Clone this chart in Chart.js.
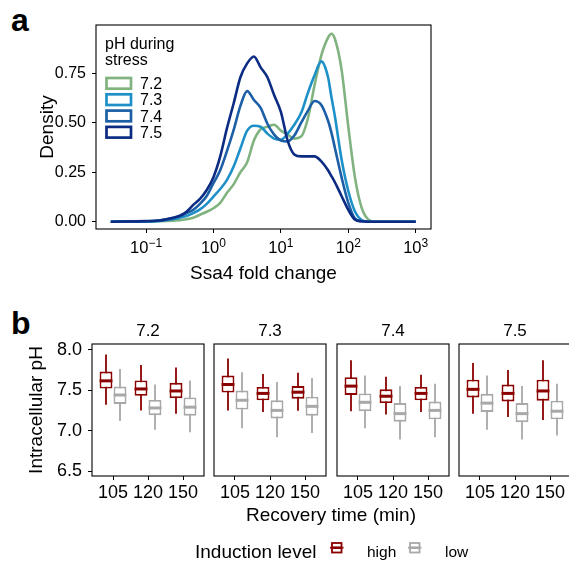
<!DOCTYPE html>
<html>
<head>
<meta charset="utf-8">
<script src="https://cdn.jsdelivr.net/npm/chart.js@4.4.1/dist/chart.umd.min.js"></script>
<style>
  html, body { margin: 0; padding: 0; background: #fff; overflow: hidden; }
  body { width: 569px; height: 562px; position: relative; font-family: "Liberation Sans", Arial, sans-serif; color: #000; }
  canvas, .txt { position: absolute; }
  .txt { white-space: nowrap; }
  .tag { font-weight: bold; font-size: 32px; line-height: 32px; left: 11px; }
</style>
</head>
<body>
<div class="txt tag" style="top:4px">a</div>
<div class="txt tag" style="top:307px">b</div>
<canvas id="panelA" width="450" height="300" style="left:0;top:0"></canvas>
<canvas id="facet0" width="208" height="210" style="left:0;top:300px"></canvas>
<canvas id="facet1" width="120" height="210" style="left:210px;top:300px"></canvas>
<canvas id="facet2" width="120" height="210" style="left:333px;top:300px"></canvas>
<canvas id="facet3" width="120" height="210" style="left:455px;top:300px"></canvas>
<div class="txt" style="left:231px;width:200px;text-align:center;top:505px;font-size:19px;line-height:19px">Recovery time (min)</div>
<div class="txt" style="left:195px;top:542px;font-size:19px;line-height:19px">Induction level</div>
<canvas id="legendB" width="100" height="20" style="left:326px;top:538px"></canvas>
<div class="txt" style="left:367px;top:544px;font-size:15.5px;line-height:15.5px">high</div>
<div class="txt" style="left:445px;top:544px;font-size:15.5px;line-height:15.5px">low</div>

<script>
// ---- a：Ssa4 倍数变化的密度曲线 ----
const phLevels = ['7.2', '7.3', '7.4', '7.5'];
const foldChange = [0.03, 0.1, 0.158, 0.251, 0.316, 0.398, 0.501, 0.631, 0.794, 1,
  1.26, 1.58, 2.0, 2.51, 3.16, 3.98, 5.01, 6.31, 7.94, 10,
  12.6, 15.8, 20.0, 25.1, 31.6, 39.8, 50.1, 56.2, 63.1, 79.4,
  100, 126, 158, 200, 251, 398, 1000];
const density72 = [0, 0.001, 0.002, 0.005, 0.008, 0.012, 0.02, 0.035, 0.05, 0.068,
  0.095, 0.145, 0.19, 0.25, 0.30, 0.41, 0.467, 0.48, 0.49, 0.46,
  0.44, 0.42, 0.43, 0.52, 0.69, 0.84, 0.93, 0.95, 0.925, 0.77,
  0.48, 0.22, 0.07, 0.01, 0, 0, 0];
const density73 = [0, 0.001, 0.004, 0.013, 0.02, 0.028, 0.043, 0.062, 0.09, 0.127,
  0.165, 0.21, 0.28, 0.37, 0.46, 0.485, 0.48, 0.445, 0.42, 0.414,
  0.445, 0.49, 0.55, 0.65, 0.74, 0.81, 0.73, 0.63, 0.535, 0.315,
  0.155, 0.05, 0.008, 0, 0, 0, 0];
const density74 = [0, 0.002, 0.006, 0.018, 0.028, 0.043, 0.06, 0.09, 0.13, 0.195,
  0.26, 0.355, 0.465, 0.585, 0.66, 0.615, 0.575, 0.495, 0.44, 0.41,
  0.405, 0.435, 0.50, 0.56, 0.61, 0.59, 0.51, 0.45, 0.375, 0.225,
  0.095, 0.015, 0.002, 0, 0, 0, 0];
const density75 = [0, 0.003, 0.006, 0.02, 0.03, 0.05, 0.085, 0.115, 0.16, 0.225,
  0.33, 0.47, 0.60, 0.73, 0.80, 0.835, 0.78, 0.73, 0.64, 0.555,
  0.41, 0.34, 0.33, 0.33, 0.33, 0.305, 0.26, 0.23, 0.20, 0.13,
  0.06, 0.01, 0.002, 0, 0, 0, 0];
const foldTicks = [0.1, 1, 10, 100, 1000];
const foldTickExp = ['\u22121', '0', '1', '2', '3'];
const densityTicks = [0, 0.25, 0.5, 0.75];

// ---- b：细胞内 pH 箱线图 [最小, Q1, 中位数, Q3, 最大] ----
const recoveryTimes = ['105', '120', '150'];
const inductionLevels = ['high', 'low'];
const highStats = [
  [[7.32, 7.52, 7.615, 7.73, 7.94], [7.25, 7.43, 7.515, 7.62, 7.81], [7.21, 7.40, 7.49, 7.59, 7.78]],
  [[7.25, 7.47, 7.57, 7.68, 7.89], [7.23, 7.375, 7.46, 7.54, 7.70], [7.245, 7.395, 7.475, 7.55, 7.715]],
  [[7.24, 7.44, 7.55, 7.66, 7.87], [7.20, 7.34, 7.425, 7.51, 7.665], [7.23, 7.375, 7.46, 7.54, 7.69]],
  [[7.21, 7.41, 7.51, 7.63, 7.835], [7.17, 7.36, 7.46, 7.57, 7.75], [7.13, 7.37, 7.49, 7.63, 7.87]]
];
const lowStats = [
  [[7.12, 7.33, 7.44, 7.545, 7.76], [7.01, 7.19, 7.28, 7.38, 7.57], [6.98, 7.185, 7.29, 7.41, 7.62]],
  [[7.03, 7.26, 7.375, 7.495, 7.72], [6.92, 7.15, 7.25, 7.375, 7.60], [6.97, 7.185, 7.30, 7.42, 7.65]],
  [[7.03, 7.24, 7.35, 7.46, 7.68], [6.89, 7.11, 7.21, 7.34, 7.55], [6.92, 7.14, 7.25, 7.36, 7.58]],
  [[7.01, 7.23, 7.34, 7.455, 7.68], [6.89, 7.105, 7.21, 7.34, 7.55], [6.94, 7.14, 7.24, 7.37, 7.58]]
];
const phTicks = [6.5, 7.0, 7.5, 8.0];

// 颜色
const densityColors = ['#80B380', '#1E90C8', '#1D5FA6', '#0C2C84'];
const levelColors = ['#8B0000', '#A8A8A8'];
const FONT = '"Liberation Sans", Arial, sans-serif';

Chart.defaults.font.family = FONT;
Chart.defaults.color = '#000';

// 面板外框
const panelBorder = {
  id: 'panelBorder',
  afterDraw(chart) {
    const { ctx, chartArea: a } = chart;
    ctx.save();
    ctx.strokeStyle = '#000';
    ctx.lineWidth = 1.1;
    ctx.strokeRect(a.left, a.top, a.right - a.left, a.bottom - a.top);
    ctx.restore();
  }
};

// x 轴 10 的幂次标签
const powerTicks = {
  id: 'powerTicks',
  afterDraw(chart) {
    const { ctx, scales: { x } } = chart;
    ctx.save();
    ctx.fillStyle = '#000';
    ctx.textBaseline = 'alphabetic';
    ctx.textAlign = 'left';
    foldTicks.forEach((v, i) => {
      const px = x.getPixelForValue(v);
      ctx.font = '16.5px ' + FONT;
      const wBase = ctx.measureText('10').width;
      ctx.font = '12px ' + FONT;
      const wExp = ctx.measureText(foldTickExp[i]).width;
      const left = px - (wBase + wExp) / 2;
      ctx.font = '16.5px ' + FONT;
      ctx.fillText('10', left, 253);
      ctx.font = '12px ' + FONT;
      ctx.fillText(foldTickExp[i], left + wBase, 246.5);
    });
    ctx.restore();
  }
};

// a 图内部图例
const densityLegend = {
  id: 'densityLegend',
  afterDraw(chart) {
    const { ctx } = chart;
    ctx.save();
    ctx.fillStyle = '#000';
    ctx.font = '16px ' + FONT;
    ctx.textBaseline = 'alphabetic';
    ctx.fillText('pH during', 105, 48.5);
    ctx.fillText('stress', 105, 65);
    phLevels.forEach((ph, i) => {
      const y = 78 + i * 16.3;
      ctx.fillStyle = '#fff';
      ctx.fillRect(106.5, y, 24.5, 10.7);
      ctx.strokeStyle = densityColors[i];
      ctx.lineWidth = 2.7;
      ctx.strokeRect(106.5, y, 24.5, 10.7);
      ctx.fillStyle = '#000';
      ctx.fillText(ph, 140, y + 11);
    });
    ctx.restore();
  }
};

new Chart(document.getElementById('panelA'), {
  type: 'line',
  data: {
    datasets: phLevels.map((ph, i) => ({
      label: ph,
      data: foldChange.map((fc, j) => ({ x: fc, y: [density72, density73, density74, density75][i][j] })),
      borderColor: densityColors[i],
      borderWidth: 2.6,
      pointRadius: 0,
      fill: false,
      cubicInterpolationMode: 'monotone',
      order: phLevels.length - i
    }))
  },
  options: {
    responsive: false,
    animation: false,
    layout: { padding: { top: 25, right: 19, left: 0, bottom: 0 } },
    plugins: { legend: { display: false }, tooltip: { enabled: false } },
    scales: {
      x: {
        type: 'logarithmic',
        min: 0.0181,
        max: 1686,
        afterBuildTicks: s => { s.ticks = foldTicks.map(v => ({ value: v })); },
        ticks: { display: false },
        grid: { drawOnChartArea: false, tickLength: 4, color: '#000' },
        border: { display: false },
        title: { display: true, text: 'Ssa4 fold change', font: { size: 19 }, padding: { top: 0, bottom: 15 } },
        afterFit: s => { s.height = 71; }
      },
      y: {
        type: 'linear',
        min: -0.037,
        max: 0.994,
        afterBuildTicks: s => { s.ticks = densityTicks.map(v => ({ value: v })); },
        ticks: { callback: v => v.toFixed(2), font: { size: 16 }, padding: 6 },
        grid: { drawOnChartArea: false, tickLength: 4, color: '#000' },
        border: { display: false },
        title: { display: true, text: 'Density', font: { size: 19 }, padding: { top: 36, bottom: 0 } },
        afterFit: s => { s.width = 96; }
      }
    }
  },
  plugins: [panelBorder, powerTicks, densityLegend]
});

// 箱线图：须线在箱体之下，中位数线在上
const boxParts = {
  id: 'boxParts',
  beforeDatasetsDraw(chart) {
    const { ctx, scales: { y } } = chart;
    chart.data.datasets.forEach((ds, di) => {
      chart.getDatasetMeta(di).data.forEach((bar, i) => {
        const s = ds.data[i].stats;
        ctx.save();
        ctx.strokeStyle = ds.borderColor;
        ctx.lineWidth = 1.8;
        ctx.beginPath();
        ctx.moveTo(bar.x, y.getPixelForValue(s[4]));
        ctx.lineTo(bar.x, y.getPixelForValue(s[0]));
        ctx.stroke();
        ctx.restore();
      });
    });
  },
  afterDatasetsDraw(chart) {
    const { ctx, scales: { y } } = chart;
    chart.data.datasets.forEach((ds, di) => {
      chart.getDatasetMeta(di).data.forEach((bar, i) => {
        const s = ds.data[i].stats;
        const py = y.getPixelForValue(s[2]);
        ctx.save();
        ctx.strokeStyle = ds.borderColor;
        ctx.lineWidth = 3;
        ctx.beginPath();
        ctx.moveTo(bar.x - bar.width / 2, py);
        ctx.lineTo(bar.x + bar.width / 2, py);
        ctx.stroke();
        ctx.restore();
      });
    });
  }
};

// 分面标题
const stripLabel = {
  id: 'stripLabel',
  afterDraw(chart, args, opts) {
    const { ctx, chartArea: a } = chart;
    ctx.save();
    ctx.fillStyle = '#000';
    ctx.font = '17px ' + FONT;
    ctx.textAlign = 'center';
    ctx.textBaseline = 'alphabetic';
    ctx.fillText(opts.text, (a.left + a.right) / 2, 36);
    ctx.restore();
  }
};

function makeFacet(idx) {
  const first = idx === 0;
  new Chart(document.getElementById('facet' + idx), {
    type: 'bar',
    data: {
      datasets: [highStats, lowStats].map((stats, li) => ({
        label: inductionLevels[li],
        data: stats[idx].map((s, i) => ({ x: i + 1, y: [s[1], s[3]], stats: s })),
        backgroundColor: '#fff',
        borderColor: levelColors[li],
        borderWidth: 1.9,
        borderSkipped: false,
        categoryPercentage: 0.8,
        barPercentage: 0.92
      }))
    },
    options: {
      responsive: false,
      animation: false,
      layout: { padding: { top: 44, right: 4, left: first ? 0 : 4, bottom: 0 } },
      plugins: {
        legend: { display: false },
        tooltip: { enabled: false },
        stripLabel: { text: phLevels[idx] }
      },
      scales: {
        x: {
          type: 'linear',
          min: 0.4,
          max: 3.6,
          offset: false,
          afterBuildTicks: s => { s.ticks = recoveryTimes.map((t, i) => ({ value: i + 1 })); },
          ticks: { callback: (v, i) => recoveryTimes[i], font: { size: 18 }, padding: 2, autoSkip: false, maxRotation: 0 },
          grid: { offset: false, drawOnChartArea: false, tickLength: 4, color: '#000' },
          border: { display: false },
          afterFit: s => { s.height = 34; }
        },
        y: {
          display: first,
          min: 6.44,
          max: 8.07,
          afterBuildTicks: s => { s.ticks = phTicks.map(v => ({ value: v })); },
          ticks: { callback: v => v.toFixed(1), font: { size: 18 }, padding: 6 },
          grid: { drawOnChartArea: false, tickLength: 4, color: '#000' },
          border: { display: false },
          title: { display: true, text: 'Intracellular pH', font: { size: 19 }, padding: { top: 25, bottom: 0 } },
          afterFit: s => { s.width = first ? 92 : 0; }
        }
      }
    },
    plugins: [boxParts, panelBorder, stripLabel]
  });
}
phLevels.forEach((ph, i) => makeFacet(i));

// 底部图例色块
(function drawInductionKeys() {
  const ctx = document.getElementById('legendB').getContext('2d');
  const keyLeft = [4, 82];
  inductionLevels.forEach((lvl, i) => {
    const x0 = keyLeft[i];
    ctx.strokeStyle = levelColors[i];
    ctx.lineWidth = 1.8;
    ctx.beginPath();
    ctx.moveTo(x0, 9.7);
    ctx.lineTo(x0 + 13.5, 9.7);
    ctx.stroke();
    ctx.fillStyle = '#fff';
    ctx.fillRect(x0 + 2, 5, 9.5, 9.5);
    ctx.strokeRect(x0 + 2, 5, 9.5, 9.5);
    ctx.lineWidth = 2.6;
    ctx.beginPath();
    ctx.moveTo(x0 + 2, 9.7);
    ctx.lineTo(x0 + 11.5, 9.7);
    ctx.stroke();
  });
})();
</script>
</body>
</html>
